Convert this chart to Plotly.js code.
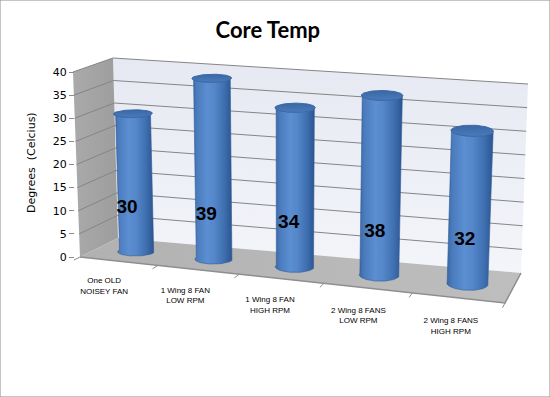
<!DOCTYPE html>
<html>
<head>
<meta charset="utf-8">
<script src="https://cdn.plot.ly/plotly-3.0.1.min.js"></script>
<style>
html,body{margin:0;padding:0;background:#fff;}
#chart{width:550px;height:397px;}
</style>
</head>
<body>
<div id="chart"></div>
<script>
// ---------------- data ----------------
var categories = ["One OLD<br>NOISEY FAN", "1 Wing 8 FAN<br>LOW RPM", "1 Wing 8 FAN<br>HIGH RPM", "2 Wing 8 FANS<br>LOW RPM", "2 Wing 8 FANS<br>HIGH RPM"];
var values = [30, 39, 34, 38, 32];
var yTicks = [0, 5, 10, 15, 20, 25, 30, 35, 40];
var yMax = 40;

// ---------------- 3D-look projection (layout geometry) ----------------
var W = 550, H = 397;
var NC = categories.length;
// floor corners in pixel space (F = front, B = back, L/R = left/right)
var FL = [80, 257], BL = [118, 238], BR = [521, 273], FR = [505, 303];
// vertical vector spanning the full value axis at each corner
var VFL = [-7, -185], VBL = [-5, -180], VBR = [7, -189], VFR = [8, -195];
var persp = 1.114; // foreshortening along the category direction

function lerp(a, b, t) { return [a[0] + (b[0] - a[0]) * t, a[1] + (b[1] - a[1]) * t]; }
// X in category units (0..NC), Y depth (0 front..1 back), Z value units
function proj(X, Y, Z) {
  var u = X / NC;
  var t = u / (u + persp * (1 - u));
  var F = lerp(FL, FR, t), B = lerp(BL, BR, t);
  var P = lerp(F, B, Y);
  var VF = lerp(VFL, VFR, t), VB = lerp(VBL, VBR, t);
  var V = lerp(VF, VB, Y);
  return [P[0] + V[0] * Z / yMax, P[1] + V[1] * Z / yMax];
}
function poly(pts, fill, extra) {
  var t = {
    type: 'scatter', mode: 'lines', x: [], y: [], fill: 'toself', fillcolor: fill,
    line: {width: 0, color: fill}, hoverinfo: 'skip', showlegend: false
  };
  pts.forEach(function (p) { t.x.push(p[0]); t.y.push(p[1]); });
  t.x.push(pts[0][0]); t.y.push(pts[0][1]);
  if (extra) for (var k in extra) t[k] = extra[k];
  return t;
}
function line(pts, color, width) {
  return {
    type: 'scatter', mode: 'lines', x: pts.map(function (p) { return p[0]; }),
    y: pts.map(function (p) { return p[1]; }), line: {color: color, width: width},
    hoverinfo: 'skip', showlegend: false
  };
}

var traces = [];
// walls
traces.push(poly([proj(0, 1, 0), proj(NC, 1, 0), proj(NC, 1, yMax), proj(0, 1, yMax)], '#eef0f7',
  {fillgradient: {type: 'vertical', colorscale: [[0, '#f3f5fa'], [1, '#e6e9f2']]}}));
traces.push(poly([proj(0, 0, 0), proj(0, 1, 0), proj(0, 1, yMax), proj(0, 0, yMax)], '#a6a6a6',
  {fillgradient: {type: 'horizontal', colorscale: [[0, '#aaaaaa'], [1, '#9d9d9d']]}}));
traces.push(poly([proj(0, 0, 0), proj(NC, 0, 0), proj(NC, 1, 0), proj(0, 1, 0)], '#b8b8b8',
  {fillgradient: {type: 'horizontal', colorscale: [[0, '#b1b1b1'], [1, '#bebebe']]}}));
// floor slab edge
traces.push(line([proj(0, 0, 0), proj(NC, 0, 0), proj(NC, 1, 0)], '#8e8e8e', 1.5));
// grid lines
yTicks.forEach(function (v) {
  if (v === 0) return;
  traces.push(line([proj(0, 0, v), proj(0, 1, v), proj(NC, 1, v)], '#858585', 1));
});
// category tick marks on floor front edge
for (var c = 0; c <= NC; c++) {
  traces.push(line([proj(c, 0, 0), proj(c, -0.16, 0)], '#8e8e8e', 1));
}

// cylinders
var R = 0.225, CY = 0.5, NS = 60;
values.forEach(function (v, i) {
  var cx = i + 0.5;
  var body = [], cap = [];
  for (var k = 0; k <= NS; k++) {
    var th = Math.PI + Math.PI * k / NS;
    body.push(proj(cx + R * Math.cos(th), CY + R * Math.sin(th), 0));
  }
  for (var k2 = NS; k2 >= 0; k2--) {
    var th2 = Math.PI + Math.PI * k2 / NS;
    body.push(proj(cx + R * Math.cos(th2), CY + R * Math.sin(th2), v));
  }
  for (var k3 = 0; k3 < 2 * NS; k3++) {
    var th3 = 2 * Math.PI * k3 / (2 * NS);
    cap.push(proj(cx + R * Math.cos(th3), CY + R * Math.sin(th3), v));
  }
  traces.push(poly(body, '#4a7dbf', {
    fillgradient: {type: 'horizontal', colorscale: [[0, '#3a67a4'], [0.12, '#4a7bbd'], [0.38, '#5b8fd1'],
      [0.55, '#5587ca'], [0.8, '#3f70b1'], [1, '#2b5591']]},
    line: {width: 0.6, color: '#2f5b97'}
  }));
  traces.push(poly(cap, '#3f6eae', {
    fillgradient: {type: 'vertical', colorscale: [[0, '#4a7bbb'], [1, '#3a67a5']]},
    line: {width: 1, color: '#3b68a6'}
  }));
});

// value labels
var labelZ = 10.3;
traces.push({
  type: 'scatter', mode: 'text',
  x: values.map(function (v, i) { return proj(i + 0.5, CY - R, labelZ)[0]; }),
  y: values.map(function (v, i) { return proj(i + 0.5, CY - R, labelZ)[1]; }),
  text: values.map(String), textposition: 'middle center', cliponaxis: false,
  textfont: {family: 'Liberation Sans, Arial, sans-serif', size: 19, color: '#000', weight: 'bold'},
  hoverinfo: 'skip', showlegend: false
});
// category labels
var labelDepth = -0.4, labelDrop = 8;
traces.push({
  type: 'scatter', mode: 'text',
  x: categories.map(function (c, i) { return proj(i + 0.5, labelDepth, 0)[0]; }),
  y: categories.map(function (c, i) { return proj(i + 0.5, labelDepth, 0)[1] + labelDrop; }),
  text: categories, textposition: 'bottom center', cliponaxis: false,
  textfont: {family: 'Liberation Sans, Arial, sans-serif', size: 8, color: '#000'},
  hoverinfo: 'skip', showlegend: false
});
// value axis carrier
traces.push({
  type: 'scatter', mode: 'lines', x: [74, 74], y: [0, yMax], xaxis: 'x', yaxis: 'y2',
  line: {width: 0, color: 'rgba(0,0,0,0)'}, hoverinfo: 'skip', showlegend: false
});

var y0px = proj(0, 0, 0)[1], y40px = proj(0, 0, yMax)[1];

var layout = {
  width: W, height: H,
  margin: {l: 0, r: 0, t: 0, b: 0},
  paper_bgcolor: '#ffffff', plot_bgcolor: 'rgba(0,0,0,0)',
  showlegend: false,
  title: {text: '<b>Core Temp</b>', x: 0.487, y: 1 - 30 / H, xanchor: 'center', yanchor: 'middle',
          font: {family: 'Lato, Carlito, sans-serif', size: 22, color: '#000'}},
  xaxis: {range: [0, W], domain: [0, 1], visible: false, fixedrange: true},
  yaxis: {range: [H, 0], domain: [0, 1], visible: false, fixedrange: true},
  yaxis2: {
    range: [0, yMax], domain: [(H - y0px) / H, (H - y40px) / H],
    anchor: 'free', position: 74 / W, side: 'left',
    tickvals: yTicks, ticktext: yTicks.map(String), ticks: 'outside', ticklen: 5,
    tickcolor: '#8a8a8a', showline: false, showgrid: false, zeroline: false,
    tickfont: {family: 'DejaVu Sans, Verdana, sans-serif', size: 11, color: '#000'},
    fixedrange: true
  },
  annotations: [{
    xref: 'paper', yref: 'paper', x: 31 / W, y: 1 - 163 / H, text: 'Degrees  (Celcius)',
    textangle: -90, showarrow: false, xanchor: 'center', yanchor: 'middle',
    font: {family: 'DejaVu Sans, Verdana, sans-serif', size: 11, color: '#000'}
  }],
  shapes: [{type: 'rect', xref: 'paper', yref: 'paper', x0: 0, y0: 0, x1: 1, y1: 1,
            line: {color: '#8c8c8c', width: 1}}]
};

Plotly.newPlot('chart', traces, layout, {displayModeBar: false, staticPlot: true});
</script>
</body>
</html>
